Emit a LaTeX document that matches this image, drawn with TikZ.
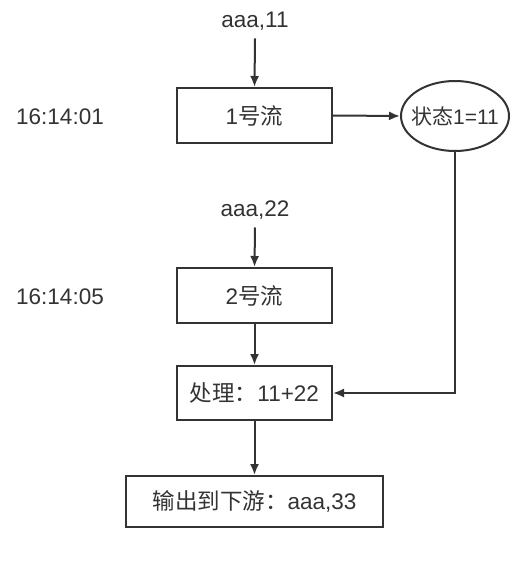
\documentclass[tikz,border=0pt]{standalone}
\usepackage{fontspec}
\setmainfont{Liberation Sans}
\newfontfamily\cjk{Noto Sans CJK SC}
\usetikzlibrary{shapes.geometric,arrows.meta}
\definecolor{inkgray}{HTML}{333333}
\tikzset{
  flowbox/.style={draw=inkgray, line width=2pt, minimum width=155pt, minimum height=55pt, inner sep=0pt},
  statenode/.style={draw=inkgray, line width=2pt, ellipse, minimum width=108pt, minimum height=70pt, inner xsep=-8pt, inner ysep=0pt},
  label/.style={inner sep=0pt},
  flow/.style={draw=inkgray, line width=2pt, -{Latex[length=11pt,width=9pt]}}
}
\begin{document}
\begin{tikzpicture}[x=1pt, y=-1pt, font=\fontsize{22.5}{26}\selectfont, text=inkgray]
  \useasboundingbox (0,0) rectangle (524,580);
  % Draw the inputs and the times.
  \node[label] (in1) at (255,21) {aaa,11};
  \node[label] (t1) at (60,117) {16:14:01};
  \node[label] (in2) at (255,210) {aaa,22};
  \node[label] (t2) at (60,297) {16:14:05};
  % Draw the streams, the state and the output.
  \node[flowbox] (s1) at (254.5,115.5) {1{\cjk 号流}};
  \node[statenode, font=\fontsize{21}{24}\selectfont] (st) at (455,116) {{\cjk 状态}1=11};
  \node[flowbox] (s2) at (254.5,295.5) {2{\cjk 号流}};
  \node[flowbox, minimum height=54pt] (proc) at (254.5,393) {{\cjk 处理：}11+22};
  \node[flowbox, minimum width=257pt, minimum height=51pt] (out) at (254.5,501.5) {{\cjk 输出到下游：}aaa,33};
  % Draw the arrows between them.
  \draw[flow] (in1.south) ++(0,8) -- (s1.north);
  \draw[flow] (s1.east) -- (st.west);
  \draw[flow] (in2.south) ++(0,8) -- (s2.north);
  \draw[flow] (s2.south) -- (proc.north);
  \draw[flow] (st.south) |- (proc.east);
  \draw[flow] (proc.south) -- (out.north);
\end{tikzpicture}
\end{document}
